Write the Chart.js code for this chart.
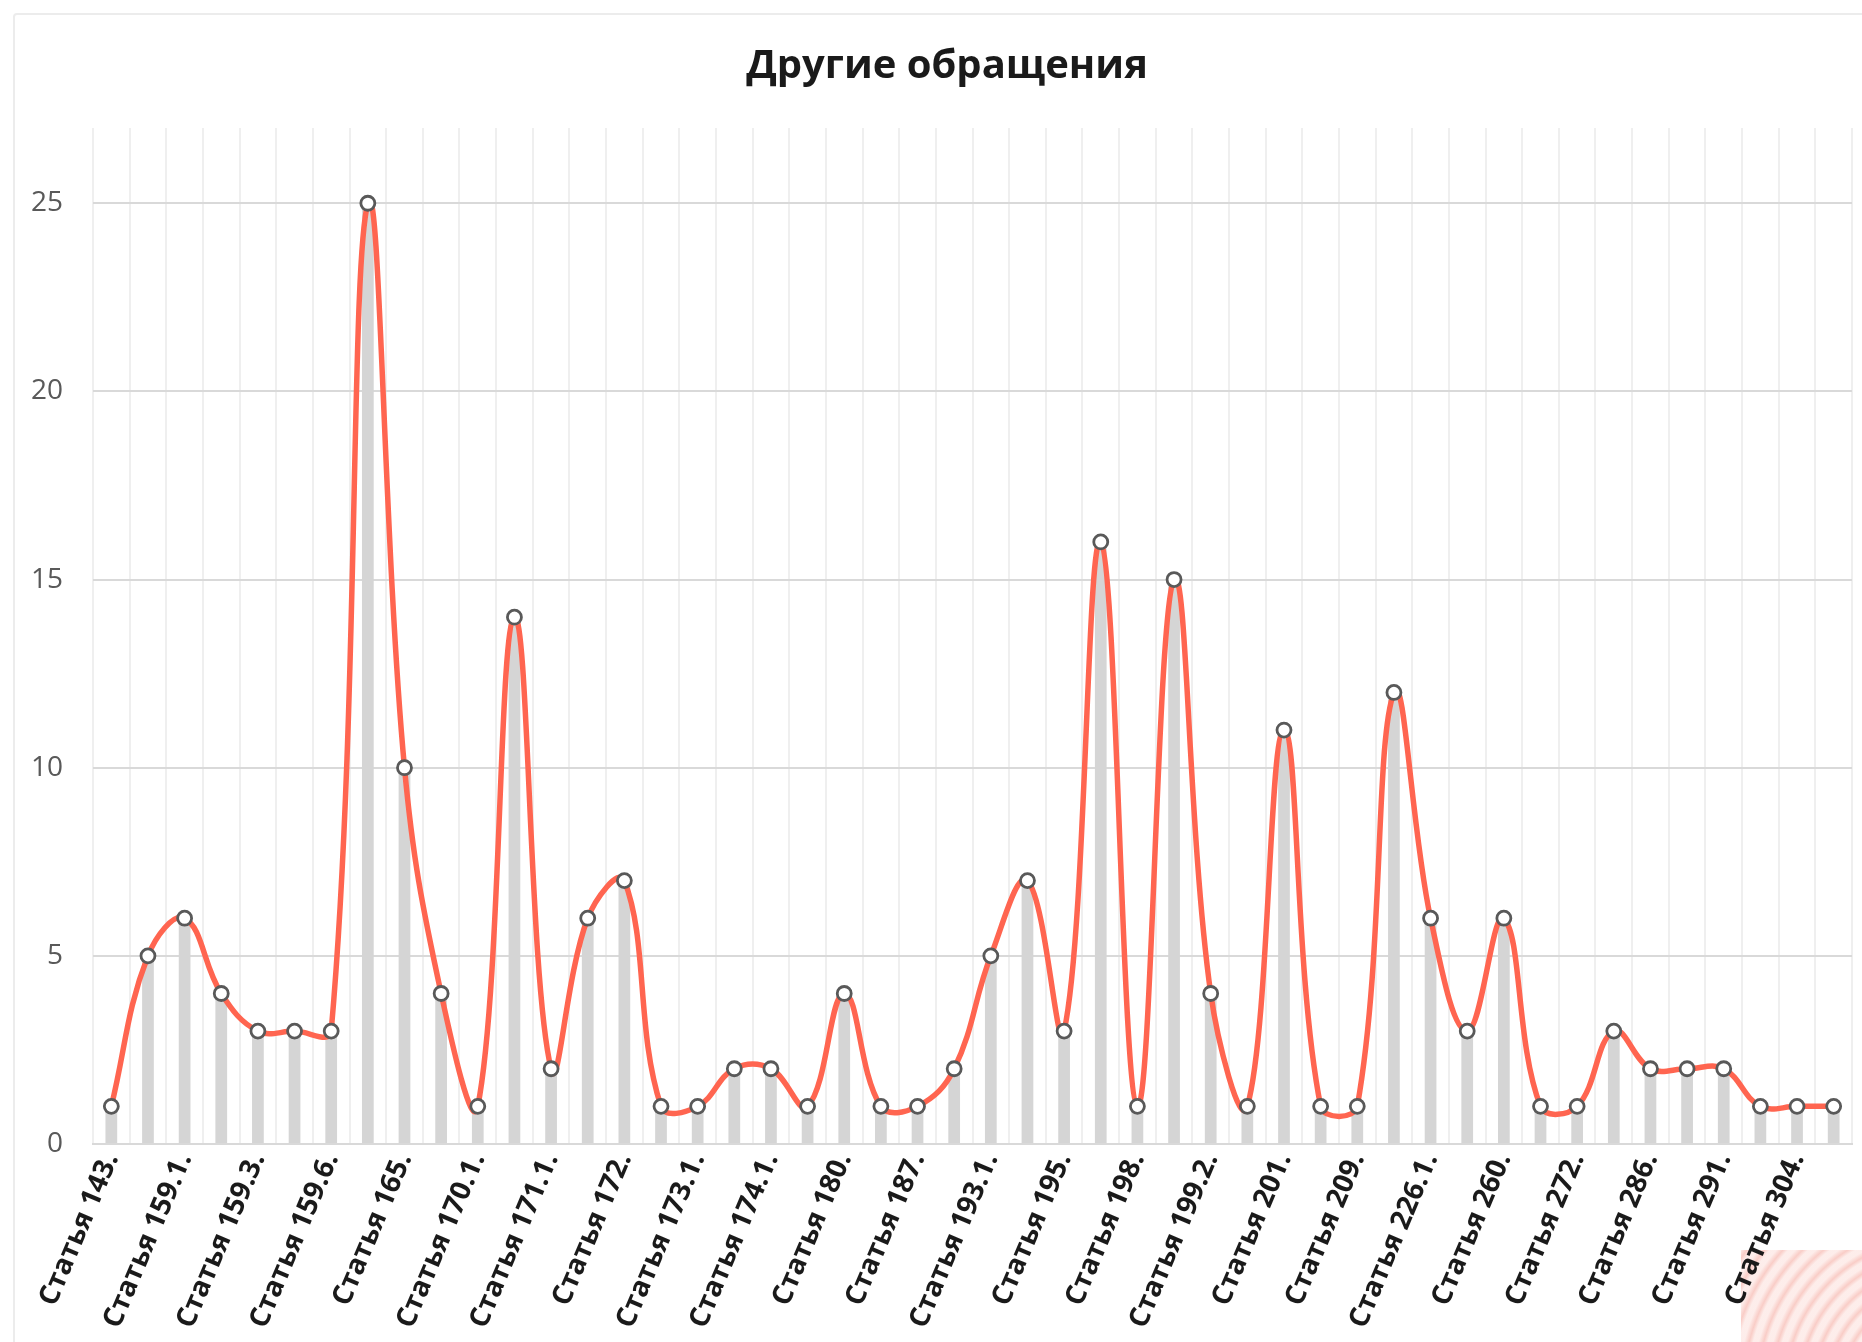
<!DOCTYPE html>
<html lang="ru">
<head>
<meta charset="utf-8">
<title>Другие обращения</title>
<script src="https://cdn.jsdelivr.net/npm/chart.js@4.4.1/dist/chart.umd.min.js"></script>
<style>
  html, body { margin: 0; padding: 0; background: #fff; overflow: hidden; }
  #wrap { position: relative; width: 1862px; height: 1342px; }
  #frame {
    position: absolute; left: 13px; top: 13px; width: 1900px; height: 1400px;
    border: 2px solid #ececec; border-radius: 4px;
  }
  #corner {
    position: absolute; left: 1741px; top: 1250px; width: 121px; height: 92px;
    background: repeating-radial-gradient(circle at 160% 150%, #fdeae7 0 5px, #f8c4bd 9px, #fdeae7 14px);
    opacity: 0.85;
  }
  #chart { position: absolute; left: 0; top: 0; }
</style>
</head>
<body>
<div id="wrap">
  <div id="frame"></div>
  <div id="corner"></div>
  <canvas id="chart" width="1862" height="1342"></canvas>
</div>
<script>
// every other category name is hidden in the original chart
const articles = [
  'Статья 143.', '', 'Статья 159.1.', '', 'Статья 159.3.', '', 'Статья 159.6.', '',
  'Статья 165.', '', 'Статья 170.1.', '', 'Статья 171.1.', '', 'Статья 172.', '',
  'Статья 173.1.', '', 'Статья 174.1.', '', 'Статья 180.', '', 'Статья 187.', '',
  'Статья 193.1.', '', 'Статья 195.', '', 'Статья 198.', '', 'Статья 199.2.', '',
  'Статья 201.', '', 'Статья 209.', '', 'Статья 226.1.', '', 'Статья 260.', '',
  'Статья 272.', '', 'Статья 286.', '', 'Статья 291.', '', 'Статья 304.', ''
];

const counts = [
  1, 5, 6, 4, 3, 3, 3, 25, 10, 4, 1, 14, 2, 6, 7, 1,
  1, 2, 2, 1, 4, 1, 1, 2, 5, 7, 3, 16, 1, 15, 4, 1,
  11, 1, 1, 12, 6, 3, 6, 1, 1, 3, 2, 2, 2, 1, 1, 1
];

const yMax = 27;
const yStep = 5;

// the chart frame is wider than the picture, so the title sits right of the canvas centre
const shiftTitle = {
  id: 'shiftTitle',
  afterLayout: (chart) => {
    if (!chart.titleBlock) return;
    chart.titleBlock.left = 32;
    chart.titleBlock.right = chart.width;
  }
};

const ctx = document.getElementById('chart').getContext('2d');

new Chart(ctx, {
  type: 'bar',
  data: {
    labels: articles,
    datasets: [
      {
        type: 'line',
        data: counts,
        order: 0,
        borderColor: '#ff6550',
        borderWidth: 5.5,
        tension: 0.4,
        pointRadius: 7,
        pointBorderWidth: 2.8,
        pointBorderColor: '#595959',
        pointBackgroundColor: '#ffffff'
      },
      {
        type: 'bar',
        data: counts,
        order: 1,
        backgroundColor: '#d5d5d5',
        barPercentage: 0.32,
        categoryPercentage: 1
      }
    ]
  },
  plugins: [shiftTitle],
  options: {
    responsive: false,
    devicePixelRatio: 1,
    animation: false,
    layout: { padding: { left: 0, right: 10, top: 0, bottom: 0 } },
    plugins: {
      legend: { display: false },
      tooltip: { enabled: false },
      title: {
        display: true,
        text: 'Другие обращения',
        color: '#1a1a1a',
        font: { family: 'Open Sans', size: 40, weight: 'bold', lineHeight: 1.2 },
        padding: { top: 43, bottom: 37 }
      }
    },
    scales: {
      x: {
        grid: { color: '#efefef', lineWidth: 2, drawTicks: false, offset: true },
        border: { color: '#d9d9d9', width: 2 },
        ticks: {
          autoSkip: false,
          minRotation: 67,
          maxRotation: 67,
          padding: 4,
          color: '#1a1a1a',
          font: { family: 'Open Sans', size: 28, weight: 'bold' }
        },
        afterFit: (scale) => {
          scale.height = 198;
          scale.paddingLeft = 0;
          scale.paddingRight = 0;
        }
      },
      y: {
        min: 0,
        max: yMax,
        grid: { color: '#d9d9d9', lineWidth: 2, drawTicks: false },
        border: { display: false },
        ticks: {
          stepSize: yStep,
          includeBounds: false,
          padding: 30,
          color: '#595959',
          font: { family: 'Open Sans', size: 28 }
        },
        afterFit: (scale) => {
          scale.width = 93;
          scale.paddingTop = 0;
          scale.paddingBottom = 0;
        }
      }
    }
  }
});
</script>
</body>
</html>
